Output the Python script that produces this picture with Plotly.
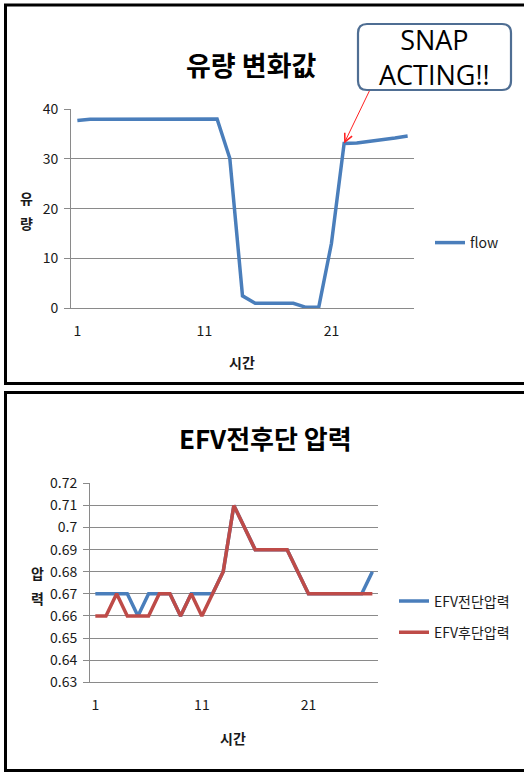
import plotly.graph_objects as go

# ---- data -------------------------------------------------------------
time_idx = list(range(1, 28))

flow = [37.7, 37.95, 37.95, 37.95, 37.95, 37.95, 37.95, 37.95, 37.95, 37.95,
        37.95, 38.0, 30.1, 2.5, 1.0, 1.0, 1.0, 1.0, 0.2, 0.2,
        13.0, 33.1, 33.2, 33.5, 33.9, 34.2, 34.6]

p_front = [0.67, 0.67, 0.67, 0.67, 0.66, 0.67, 0.67, 0.67, 0.66, 0.67,
           0.67, 0.67, 0.68, 0.71, 0.70, 0.69, 0.69, 0.69, 0.69, 0.68,
           0.67, 0.67, 0.67, 0.67, 0.67, 0.67, 0.68]

p_rear = [0.66, 0.66, 0.67, 0.66, 0.66, 0.66, 0.67, 0.67, 0.66, 0.67,
          0.66, 0.67, 0.68, 0.71, 0.70, 0.69, 0.69, 0.69, 0.69, 0.68,
          0.67, 0.67, 0.67, 0.67, 0.67, 0.67, 0.67]

x_label_vals = [1, 11, 21]
x_label_text = ["1", "11", "21"]
x_tick_marks = [0.5, 10.5, 20.5]

flow_ticks = [0, 10, 20, 30, 40]
press_ticks = [0.63, 0.64, 0.65, 0.66, 0.67, 0.68, 0.69, 0.70, 0.71, 0.72]
press_tick_text = ["0.63", "0.64", "0.65", "0.66", "0.67", "0.68", "0.69",
                   "0.7", "0.71", "0.72"]

# ---- styling ----------------------------------------------------------
W, H = 524, 772
FONT = "Noto Sans CJK KR"
BLUE = "#4A7EBB"
RED = "#BE4B48"
GRID = "#8A8A8A"
TXT = "#1a1a1a"


def px(x):
    return x / W


def py(y):
    return 1 - y / H


fig = go.Figure()

fig.add_trace(go.Scatter(x=time_idx, y=flow, mode="lines", name="flow",
                         line=dict(color=BLUE, width=3.5),
                         xaxis="x", yaxis="y", legend="legend"))
fig.add_trace(go.Scatter(x=time_idx, y=p_front, mode="lines", name="EFV전단압력",
                         line=dict(color=BLUE, width=3.5),
                         xaxis="x2", yaxis="y2", legend="legend2",
                         legendgroup="a"))
fig.add_trace(go.Scatter(x=time_idx, y=p_rear, mode="lines", name="EFV후단압력",
                         line=dict(color=RED, width=3.5),
                         xaxis="x2", yaxis="y2", legend="legend2",
                         legendgroup="b"))

tick_font = dict(family=FONT, size=14, color=TXT)

label_axis = dict(range=[0.5, 27.5], tickmode="array", tickvals=x_label_vals,
                  ticktext=x_label_text, ticks="", showgrid=False,
                  zeroline=False, showline=True, linecolor=GRID, linewidth=1,
                  tickfont=tick_font, ticklabelstandoff=10, fixedrange=True)
mark_axis = dict(range=[0.5, 27.5], tickmode="array", tickvals=x_tick_marks,
                 ticks="outside", ticklen=6, tickcolor=GRID, tickwidth=1,
                 showticklabels=False, showgrid=False, zeroline=False,
                 showline=False, fixedrange=True)

top_x = [px(71), px(414)]
bot_x = [px(90), px(377.7)]

fig.update_layout(
    width=W, height=H,
    margin=dict(l=0, r=0, t=0, b=0, pad=0, autoexpand=False),
    paper_bgcolor="white", plot_bgcolor="white",
    font=dict(family=FONT, color=TXT),
    xaxis=dict(domain=top_x, anchor="y", **label_axis),
    xaxis3=dict(domain=top_x, anchor="y", overlaying="x", **mark_axis),
    yaxis=dict(domain=[py(308.3), py(109)], anchor="x", range=[0, 40],
               tickmode="array", tickvals=flow_ticks, ticks="outside",
               ticklen=6, tickcolor=GRID, showline=True, linecolor=GRID,
               showgrid=True, gridcolor=GRID, gridwidth=1, zeroline=False,
               tickfont=tick_font, ticklabelstandoff=3, fixedrange=True),
    xaxis2=dict(domain=bot_x, anchor="y2", **label_axis),
    xaxis4=dict(domain=bot_x, anchor="y2", overlaying="x2", **mark_axis),
    yaxis2=dict(domain=[py(682.3), py(483.3)], anchor="x2",
                range=[0.63, 0.72], tickmode="array", tickvals=press_ticks,
                ticktext=press_tick_text, ticks="outside", ticklen=6,
                tickcolor=GRID, showline=True, linecolor=GRID,
                showgrid=True, gridcolor=GRID, gridwidth=1, zeroline=False,
                tickfont=tick_font, ticklabelstandoff=3, fixedrange=True),
    legend=dict(x=px(430), y=py(243), xanchor="left", yanchor="middle",
                font=dict(family=FONT, size=14, color=TXT),
                bgcolor="rgba(0,0,0,0)"),
    legend2=dict(x=px(394), y=py(617), xanchor="left", yanchor="middle",
                 font=dict(family=FONT, size=14, color=TXT),
                 bgcolor="rgba(0,0,0,0)", tracegroupgap=10),
    showlegend=True,
)

# panel frames
for y0, y1 in [(5, 383.5), (392.5, 770.5)]:
    fig.add_shape(type="rect", xref="paper", yref="paper",
                  x0=px(5.5), x1=px(540), y0=py(y1), y1=py(y0),
                  line=dict(color="black", width=3), fillcolor="rgba(0,0,0,0)",
                  layer="above")

# rounded call-out box
bx0, bx1, by0, by1, r = 358, 511, 24, 90, 9
path = (f"M {bx0 + r},{by0} L {bx1 - r},{by0} Q {bx1},{by0} {bx1},{by0 + r} "
        f"L {bx1},{by1 - r} Q {bx1},{by1} {bx1 - r},{by1} "
        f"L {bx0 + r},{by1} Q {bx0},{by1} {bx0},{by1 - r} "
        f"L {bx0},{by0 + r} Q {bx0},{by0} {bx0 + r},{by0} Z")


def to_paper_path(p):
    out = []
    for tok in p.split():
        if "," in tok:
            a, b = tok.split(",")
            out.append(f"{px(float(a)):.5f},{py(float(b)):.5f}")
        else:
            out.append(tok)
    return " ".join(out)


fig.add_shape(type="path", xref="paper", yref="paper", path=to_paper_path(path),
              line=dict(color="#4F6E93", width=2.2), fillcolor="white")


def stacked(a, b):
    s = "<span style='font-size:14px'><b>{}</b></span>"
    return s.format(a) + "<br>" + s.format(b)


def note(text, x, y, size, family=FONT, color=TXT):
    return dict(text=text, x=px(x), y=py(y), xref="paper", yref="paper",
                xanchor="center", yanchor="middle", showarrow=False,
                font=dict(size=size, family=family, color=color))


annotations = [
    note("<b>유량 변화값</b>", 251, 65, 27, color="black"),
    note("<b>EFV전후단 압력</b>", 265, 437, 26, color="black"),
    note(stacked("유", "량"), 26, 210, 19),
    note(stacked("압", "력"), 37, 585, 19),
    note("<b>시간</b>", 242, 362, 14),
    note("<b>시간</b>", 233, 738, 14),
    note("SNAP<br>ACTING!!", 434.5, 57, 27, family="Open Sans", color="black"),
    # arrow from the call-out to the recovery point
    dict(text="", x=22, y=flow[21], xref="x", yref="y", showarrow=True,
         ax=26, ay=-54, arrowhead=5, arrowsize=1.6, arrowwidth=1,
         arrowcolor="#FF2020", standoff=0),
]
fig.update_layout(annotations=annotations)

fig.write_html("out.html")
